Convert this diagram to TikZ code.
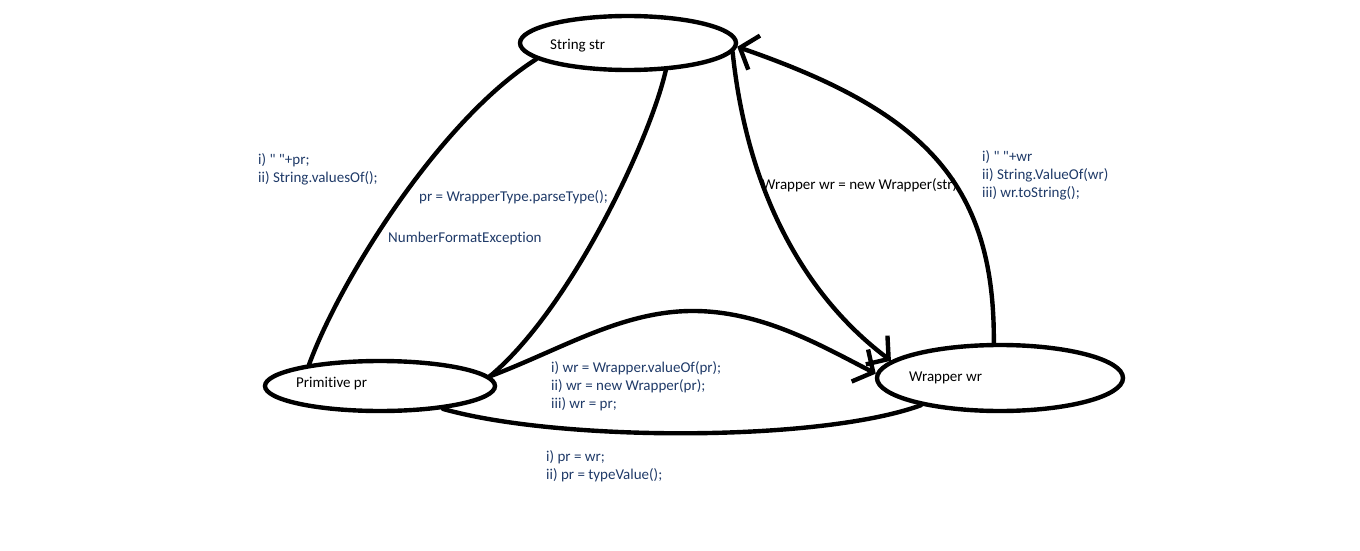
\documentclass[tikz,border=0pt]{standalone}
\usepackage{fontspec}
\setmainfont{Carlito}[Ligatures={NoCommon}]
\usepackage{tikz}
\usetikzlibrary{shapes,arrows.meta}
\definecolor{notecol}{HTML}{1F3A68}

\begin{document}
\begin{tikzpicture}[x=1pt,y=-1pt,
		state/.style={draw,ellipse,line width=4.4pt,inner sep=0pt},
		lbl/.style={inner sep=0pt,anchor=base west,font=\fontsize{15}{18}\selectfont},
		note/.style={lbl,text=notecol,align=left},
		conn/.style={line width=4.4pt,line cap=round},
		barb/.style={conn,-{Straight Barb[length=15pt,width=36pt]}}]
		\useasboundingbox (0,0) rectangle (1360,551);
		% the three value kinds
		\node[state,minimum width=216pt,minimum height=54pt] (str) at (628,43) {};
		\node[state,minimum width=230pt,minimum height=50pt] (pr) at (380,386) {};
		\node[state,minimum width=246pt,minimum height=66pt] (wr) at (1000,378) {};
		\node[lbl] (strlbl) at (550,49) {String str};
		\node[lbl] (prlbl) at (296,387) {Primitive pr};
		\node[lbl] (wrlbl) at (909,381) {Wrapper wr};
		% conversions
		\draw[conn] (pr.163) .. controls (340,280) and (440,120) .. (str.190);
		\draw[conn] (pr.5) .. controls (570,310) and (650,140) .. (str.-36);
		\draw[barb] (str.-5) .. controls (748,200) and (810,300) .. (wr.171);
		\draw[barb] (pr.5) .. controls (560,350) and (620,312) .. (690,311)
			.. controls (760,310) and (820,345) .. (wr.178);
		\draw[conn] (wr.199) .. controls (820,442) and (560,442) .. (pr.-20);
		\draw[barb] (wr.100) .. controls (995,180) and (920,110) .. (str.-2);
		% labels of the conversions (base = last line)
		\node[note] (prtostr) at (258,182) {i) \textquotedbl\ \textquotedbl+pr;\\ii) String.valuesOf();};
		\node[note] (parse) at (419,201) {pr = WrapperType.parseType();};
		\node[note] (nfe) at (388,242) {NumberFormatException};
		\node[lbl] (strtowr) at (762,189) {Wrapper wr = new Wrapper(str)};
		\node[note] (wrtostr) at (982,197.5) {i) \textquotedbl\ \textquotedbl+wr\\ii) String.ValueOf(wr)\\iii) wr.toString();};
		\node[note] (prtowr) at (551,408.7) {i) wr = Wrapper.valueOf(pr);\\ii) wr = new Wrapper(pr);\\iii) wr = pr;};
		\node[note] (wrtopr) at (546,479) {i) pr = wr;\\ii) pr = typeValue();};
	\end{tikzpicture}
\end{document}
